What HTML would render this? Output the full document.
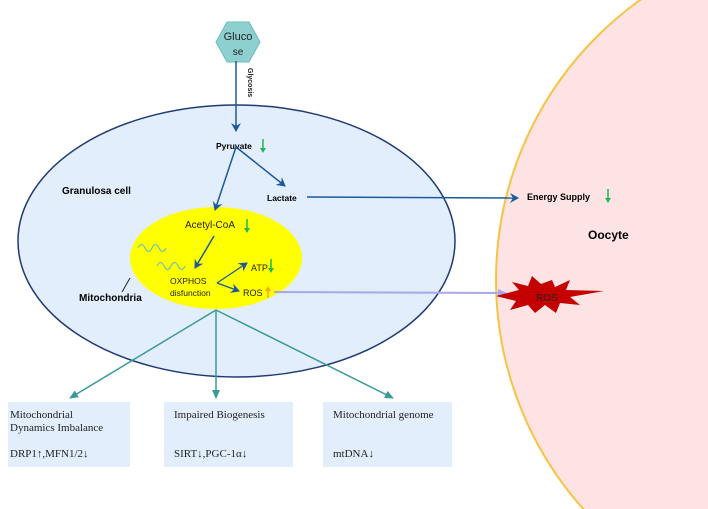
<!DOCTYPE html>
<html><head><meta charset="utf-8"><style>
html,body{margin:0;padding:0;background:#fff;width:708px;height:509px;overflow:hidden;}
svg{display:block;font-family:"Liberation Sans",sans-serif;}
.b{font-weight:bold;}
.s{font-family:"Liberation Serif",serif;font-size:11px;fill:#222;}
</style></head><body>
<svg width="708" height="509" viewBox="0 0 708 509" xmlns="http://www.w3.org/2000/svg">
<defs>
<marker id="ab" markerWidth="10" markerHeight="10" refX="8" refY="5" orient="auto" markerUnits="userSpaceOnUse"><path d="M0,0 L9,5 L0,10 L3,5 z" fill="#1a5a9a"/></marker>
<marker id="at" markerWidth="10" markerHeight="10" refX="8" refY="5" orient="auto" markerUnits="userSpaceOnUse"><path d="M0,1 L9,5 L0,9 z" fill="#3a9a9a"/></marker>
<marker id="al" markerWidth="10" markerHeight="10" refX="8" refY="5" orient="auto" markerUnits="userSpaceOnUse"><path d="M0,1 L9,5 L0,9 z" fill="#a8a8e8"/></marker>
</defs>
<circle cx="840" cy="280" r="344" fill="#fde3e3" stroke="#f6c342" stroke-width="2"/>
<ellipse cx="236.5" cy="241" rx="218.5" ry="136" fill="#e3eefc" stroke="#1f3a75" stroke-width="1.5"/>
<ellipse cx="216" cy="258" rx="86" ry="51" fill="#ffff00"/>
<polygon points="227,22 249,22 260,42 249,62 227,62 216,42" fill="#8ecfd0" stroke="#6bbcbd" stroke-width="1"/>
<text x="238" y="40" font-size="11" text-anchor="middle" fill="#222">Gluco</text>
<text x="238" y="55" font-size="10" text-anchor="middle" fill="#222">se</text>
<line x1="236" y1="61" x2="236" y2="131" stroke="#1a5a9a" stroke-width="1.5" marker-end="url(#ab)"/>
<text x="248" y="68" font-size="7" class="b" transform="rotate(90 248 68)" fill="#222">Glycosis</text>
<text x="216" y="149" font-size="8.5" class="b">Pyruvate</text>
<line x1="236" y1="147" x2="215" y2="210" stroke="#1a5a9a" stroke-width="1.5" marker-end="url(#ab)"/>
<line x1="236" y1="147" x2="285" y2="186" stroke="#1a5a9a" stroke-width="1.5" marker-end="url(#ab)"/>
<text x="267" y="201" font-size="8.5" class="b">Lactate</text>
<line x1="307" y1="197" x2="518" y2="198" stroke="#1a5a9a" stroke-width="1.5" marker-end="url(#ab)"/>
<text x="527" y="200" font-size="9" class="b">Energy Supply</text>
<text x="588" y="239" font-size="12" class="b">Oocyte</text>
<text x="62" y="194" font-size="10" class="b">Granulosa cell</text>
<text x="79" y="301" font-size="10" class="b">Mitochondria</text>
<line x1="122" y1="292" x2="130" y2="278" stroke="#222" stroke-width="1"/>
<text x="185" y="228" font-size="10" fill="#222">Acetyl-CoA</text>
<line x1="214" y1="236" x2="195" y2="268" stroke="#1a5a9a" stroke-width="1.5" marker-end="url(#ab)"/>
<path d="M138,248 q3.5,-7 7,0 t7,0 t7,0 t7,0" fill="none" stroke="#5ab8d8" stroke-width="1"/>
<path d="M157,266 q3.5,-7 7,0 t7,0 t7,0 t7,0" fill="none" stroke="#5ab8d8" stroke-width="1"/>
<text x="170" y="284" font-size="8.5" fill="#222">OXPHOS</text>
<text x="170" y="296" font-size="8.5" fill="#222">disfunction</text>
<line x1="217" y1="283" x2="247" y2="263" stroke="#1a5a9a" stroke-width="1.2" marker-end="url(#ab)"/>
<line x1="217" y1="283" x2="239" y2="291" stroke="#1a5a9a" stroke-width="1.2" marker-end="url(#ab)"/>
<text x="251" y="271" font-size="9" fill="#222">ATP</text>
<text x="243" y="296" font-size="9" fill="#222">ROS</text>
<g stroke="#1db954" fill="#1db954" stroke-width="1.5">
<line x1="263" y1="139" x2="263" y2="150"/><path d="M260,148 L266,148 L263,153 z" stroke="none"/>
<line x1="247" y1="219" x2="247" y2="230"/><path d="M244,228 L250,228 L247,233 z" stroke="none"/>
<line x1="271" y1="259" x2="271" y2="270"/><path d="M268,268 L274,268 L271,273 z" stroke="none"/>
<line x1="608" y1="189" x2="608" y2="200"/><path d="M605,198 L611,198 L608,203 z" stroke="none"/>
</g>
<g stroke="#f5a623" fill="#f5a623" stroke-width="1.5">
<line x1="268" y1="298" x2="268" y2="290"/><path d="M265,291 L271,291 L268,286 z" stroke="none"/>
</g>
<line x1="274" y1="292" x2="506" y2="293" stroke="#a8a8e8" stroke-width="2" marker-end="url(#al)"/>
<polygon points="496,296 519,290 512,282 528,286 532,276 541,284 552,280 555,287 570,280 566,290 604,291 570,297 580,305 560,303 556,313 545,305 535,313 528,305 510,310 516,301" fill="#c40000"/>
<text x="536" y="301" font-size="10" fill="#222">ROS</text>
<line x1="216" y1="310" x2="70" y2="398" stroke="#3a9a9a" stroke-width="1.5" marker-end="url(#at)"/>
<line x1="216" y1="310" x2="216" y2="398" stroke="#3a9a9a" stroke-width="1.5" marker-end="url(#at)"/>
<line x1="216" y1="310" x2="393" y2="398" stroke="#3a9a9a" stroke-width="1.5" marker-end="url(#at)"/>
<rect x="8" y="402" width="122" height="65" fill="#e3eefc"/>
<rect x="164" y="402" width="129" height="65" fill="#e3eefc"/>
<rect x="323" y="402" width="129" height="65" fill="#e3eefc"/>
<text x="10" y="418" class="s">Mitochondrial</text>
<text x="10" y="431" class="s">Dynamics Imbalance</text>
<text x="10" y="457" class="s">DRP1↑,MFN1/2↓</text>
<text x="174" y="418" class="s">Impaired Biogenesis</text>
<text x="174" y="457" class="s">SIRT↓,PGC-1α↓</text>
<text x="333" y="418" class="s">Mitochondrial genome</text>
<text x="333" y="457" class="s">mtDNA↓</text>
</svg>
</body></html>
